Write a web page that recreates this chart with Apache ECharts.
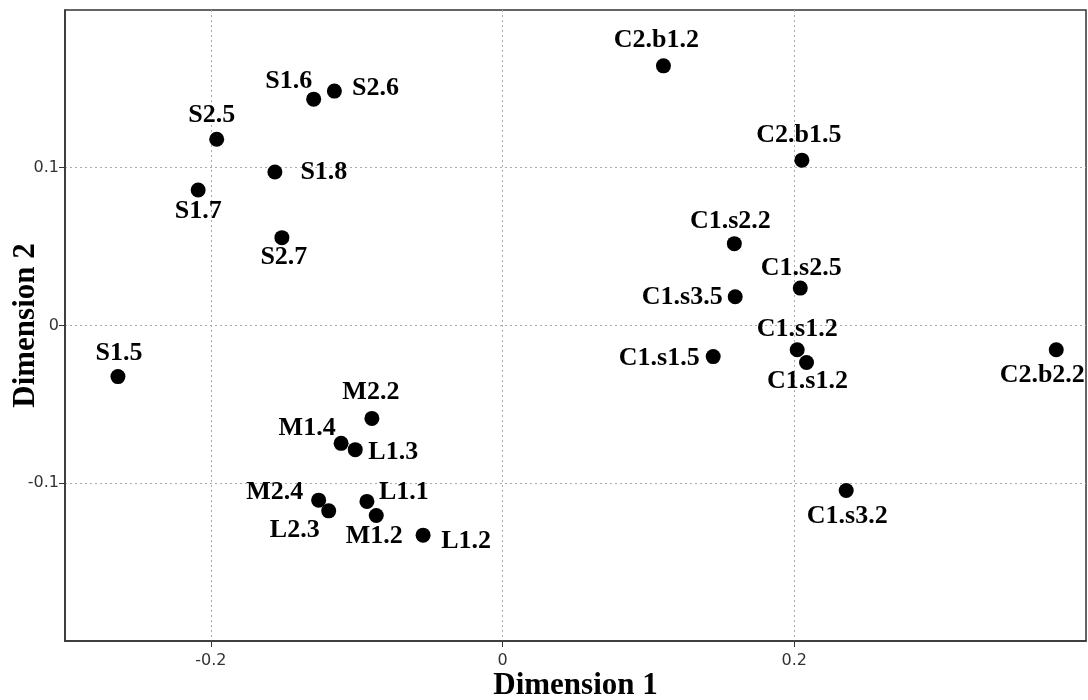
<!DOCTYPE html>
<html>
<head>
<meta charset="utf-8">
<script src="https://cdn.jsdelivr.net/npm/echarts@6/dist/echarts.min.js"></script>
<style>
  html, body { margin: 0; padding: 0; background: #fff; }
  #chart { width: 1088px; height: 700px; }
</style>
</head>
<body>
<div id="chart"></div>
<script>
// sample names and their MDS coordinates
const names = ['S1.6', 'S2.6', 'S2.5', 'S1.8', 'S1.7', 'S2.7', 'S1.5',
  'M2.2', 'M1.4', 'L1.3', 'M2.4', 'L2.3', 'L1.1', 'M1.2', 'L1.2',
  'C2.b1.2', 'C2.b1.5', 'C1.s2.2', 'C1.s2.5', 'C1.s3.5', 'C1.s1.2', 'C1.s1.2',
  'C1.s1.5', 'C2.b2.2', 'C1.s3.2'];
const dim1 = [-0.1295, -0.1153, -0.196, -0.1561, -0.2087, -0.1513, -0.2637,
  -0.0896, -0.1107, -0.1010, -0.1261, -0.1192, -0.0930, -0.0866, -0.0545,
  0.1103, 0.2052, 0.1589, 0.2041, 0.1595, 0.2020, 0.2084,
  0.1444, 0.3796, 0.2356];
const dim2 = [0.1435, 0.1486, 0.1181, 0.0973, 0.0859, 0.0557, -0.0324,
  -0.0589, -0.0747, -0.0787, -0.1107, -0.1175, -0.1115, -0.1204, -0.1329,
  0.1646, 0.1048, 0.0519, 0.0237, 0.0182, -0.0154, -0.0235,
  -0.0197, -0.0154, -0.1046];
const xTicks = [-0.2, 0, 0.2];
const yTicks = [-0.1, 0, 0.1];

// where each label sits relative to its dot (px)
const labelOffsets = [[-25, -18], [41, -3], [-5, -24], [49, 0], [0, 21], [2, 20], [1, -23],
  [-1, -26], [-34, -15], [38, 3], [-44, -8], [-34, 19], [37, -9], [-2, 21], [43, 6],
  [-7, -26], [-3, -25], [-4, -22], [1, -20], [-53, 0], [0, -21], [1, 19],
  [-54, 2], [-14, 25], [1, 26]];

const chart = echarts.init(document.getElementById('chart'));

const points = names.map((n, i) => ({
  name: n,
  value: [dim1[i], dim2[i]],
  label: { offset: labelOffsets[i] }
}));

const gridLine = { show: true, lineStyle: { color: '#aaa', type: [2, 3], width: 1 } };
const tickFont = { fontFamily: 'DejaVu Sans', fontSize: 16, color: '#333' };
const titleFont = { fontFamily: 'Liberation Serif', fontWeight: 'bold', fontSize: 31, color: '#000' };

chart.setOption({
  animation: false,
  grid: {
    left: 65, right: 2, top: 10, bottom: 59,
    containLabel: false,
    outerBoundsMode: 'none',
    show: true, borderColor: '#333', borderWidth: 1.5
  },
  xAxis: {
    type: 'value',
    min: -0.3, max: 0.4, interval: 0.1,
    name: 'Dimension 1',
    nameLocation: 'middle',
    nameGap: 29,
    nameMoveOverlap: false,
    nameTextStyle: titleFont,
    axisLine: { show: true, onZero: false, lineStyle: { color: '#333', width: 1.5 } },
    axisTick: { show: true, length: 6, customValues: xTicks, lineStyle: { color: '#333' } },
    axisLabel: Object.assign({ margin: 12, customValues: xTicks }, tickFont),
    splitLine: gridLine
  },
  yAxis: {
    type: 'value',
    min: -0.2, max: 0.2, interval: 0.1,
    name: 'Dimension 2',
    nameLocation: 'middle',
    nameGap: 24,
    nameMoveOverlap: false,
    nameTextStyle: titleFont,
    axisLine: { show: true, onZero: false, lineStyle: { color: '#333', width: 1.5 } },
    axisTick: { show: true, length: 6, customValues: yTicks, lineStyle: { color: '#333' } },
    axisLabel: Object.assign({ margin: 6, customValues: yTicks }, tickFont),
    splitLine: gridLine
  },
  series: [{
    type: 'scatter',
    symbol: 'circle',
    symbolSize: 15,
    itemStyle: { color: '#000', opacity: 1 },
    label: {
      show: true,
      position: 'inside',
      formatter: '{b}',
      fontFamily: 'Liberation Serif',
      fontWeight: 'bold',
      fontSize: 26,
      color: '#000'
    },
    data: points
  }]
});
</script>
</body>
</html>
